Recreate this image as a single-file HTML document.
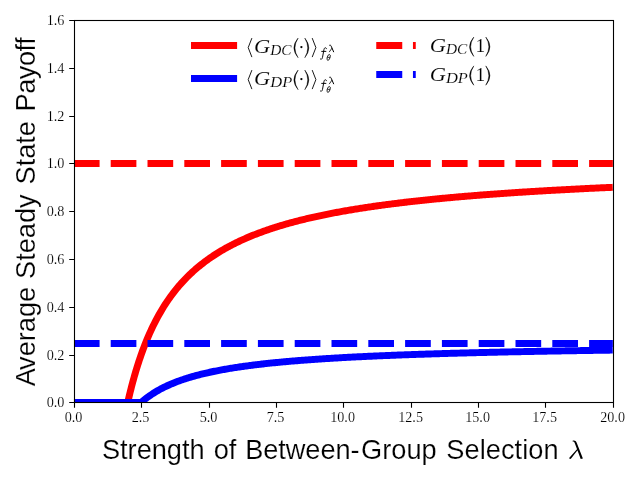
<!DOCTYPE html>
<html><head><meta charset="utf-8"><title>chart</title>
<style>text.th{stroke:#fff;stroke-width:0.1px}text.tk{stroke:#fff;stroke-width:0.15px}text.ax{stroke:#fff;stroke-width:0.18px}html,body{margin:0;padding:0;background:#fff;width:640px;height:480px;overflow:hidden}</style>
</head><body>
<svg width="640" height="480" viewBox="0 0 640 480" style="position:absolute;left:0;top:0;will-change:transform">
<defs><clipPath id="ax"><rect x="73.85" y="20" width="539" height="382.4"/></clipPath></defs>
<rect width="640" height="480" fill="#fff"/>
<g clip-path="url(#ax)" fill="none" stroke-width="6.944" stroke-linejoin="round">
<path d="M73.85,402.40 L100.80,402.40 L127.75,402.40 L128.21,400.36 L128.68,398.35 L129.14,396.37 L129.61,394.43 L130.07,392.52 L130.54,390.65 L131.00,388.80 L131.47,386.98 L131.93,385.19 L132.40,383.43 L132.86,381.70 L133.33,379.99 L133.79,378.31 L134.26,376.66 L134.72,375.03 L135.18,373.43 L135.65,371.85 L136.11,370.30 L136.58,368.76 L137.04,367.25 L137.51,365.76 L137.97,364.30 L138.44,362.85 L138.90,361.43 L139.37,360.02 L139.83,358.64 L140.30,357.27 L140.76,355.93 L141.22,354.60 L142.41,351.30 L143.59,348.12 L144.77,345.04 L145.95,342.06 L147.14,339.18 L148.32,336.39 L149.50,333.69 L150.68,331.07 L151.86,328.53 L153.05,326.06 L154.23,323.67 L155.41,321.35 L156.59,319.09 L157.77,316.90 L158.96,314.77 L160.14,312.69 L161.32,310.68 L162.50,308.71 L163.68,306.80 L164.87,304.94 L166.05,303.12 L167.23,301.35 L168.41,299.63 L169.59,297.95 L170.78,296.31 L171.96,294.71 L173.14,293.14 L174.32,291.62 L175.50,290.13 L176.69,288.67 L177.87,287.25 L179.05,285.85 L180.23,284.49 L181.41,283.16 L182.60,281.86 L183.78,280.59 L184.96,279.34 L186.14,278.12 L187.32,276.93 L188.51,275.75 L189.69,274.61 L190.87,273.48 L192.05,272.38 L193.23,271.30 L194.42,270.25 L195.60,269.21 L196.78,268.19 L197.96,267.19 L199.14,266.22 L200.33,265.25 L201.51,264.31 L202.69,263.39 L203.87,262.48 L205.05,261.58 L206.24,260.71 L207.42,259.85 L208.60,259.00 L209.78,258.17 L210.96,257.35 L212.15,256.55 L213.33,255.76 L214.51,254.98 L215.69,254.22 L216.87,253.47 L218.06,252.73 L219.24,252.00 L220.42,251.29 L221.60,250.59 L222.78,249.90 L223.97,249.21 L225.15,248.54 L226.33,247.88 L227.51,247.23 L228.69,246.59 L229.88,245.96 L231.06,245.34 L232.24,244.73 L233.42,244.13 L234.60,243.54 L235.79,242.95 L236.97,242.37 L238.15,241.81 L239.33,241.25 L240.51,240.69 L241.70,240.15 L242.88,239.61 L244.06,239.08 L245.24,238.56 L246.42,238.05 L247.61,237.54 L248.79,237.04 L249.97,236.54 L251.15,236.06 L252.33,235.57 L253.52,235.10 L254.70,234.63 L255.88,234.17 L257.06,233.71 L258.24,233.26 L259.43,232.82 L260.61,232.38 L261.79,231.94 L262.97,231.51 L264.15,231.09 L265.34,230.67 L266.52,230.26 L267.70,229.85 L268.88,229.45 L270.06,229.05 L271.25,228.66 L272.43,228.27 L273.61,227.89 L274.79,227.51 L275.98,227.13 L277.16,226.76 L278.34,226.40 L279.52,226.03 L280.70,225.68 L281.89,225.32 L283.07,224.97 L284.25,224.63 L285.43,224.28 L286.61,223.95 L287.80,223.61 L288.98,223.28 L290.16,222.95 L291.34,222.63 L292.52,222.31 L293.71,221.99 L294.89,221.68 L296.07,221.37 L297.25,221.06 L298.43,220.76 L299.62,220.46 L300.80,220.16 L301.98,219.87 L303.16,219.58 L304.34,219.29 L305.53,219.00 L306.71,218.72 L307.89,218.44 L309.07,218.17 L310.25,217.89 L311.44,217.62 L312.62,217.35 L313.80,217.09 L314.98,216.82 L316.16,216.56 L317.35,216.30 L318.53,216.05 L319.71,215.80 L320.89,215.55 L322.07,215.30 L323.26,215.05 L324.44,214.81 L325.62,214.57 L326.80,214.33 L327.98,214.09 L329.17,213.86 L330.35,213.62 L331.53,213.39 L332.71,213.16 L333.89,212.94 L335.08,212.71 L336.26,212.49 L337.44,212.27 L338.62,212.05 L339.80,211.84 L340.99,211.62 L342.17,211.41 L343.35,211.20 L344.53,210.99 L345.71,210.78 L346.90,210.58 L348.08,210.38 L349.26,210.17 L350.44,209.97 L351.62,209.78 L352.81,209.58 L353.99,209.38 L355.17,209.19 L356.35,209.00 L357.53,208.81 L358.72,208.62 L359.90,208.43 L361.08,208.25 L362.26,208.07 L363.44,207.88 L364.63,207.70 L365.81,207.52 L366.99,207.35 L368.17,207.17 L369.35,206.99 L370.54,206.82 L371.72,206.65 L372.90,206.48 L374.08,206.31 L375.26,206.14 L376.45,205.97 L377.63,205.81 L378.81,205.64 L379.99,205.48 L381.17,205.32 L382.36,205.16 L383.54,205.00 L384.72,204.84 L385.90,204.68 L387.08,204.53 L388.27,204.37 L389.45,204.22 L390.63,204.07 L391.81,203.91 L392.99,203.76 L394.18,203.62 L395.36,203.47 L396.54,203.32 L397.72,203.18 L398.90,203.03 L400.09,202.89 L401.27,202.74 L402.45,202.60 L403.63,202.46 L404.81,202.32 L406.00,202.18 L407.18,202.05 L408.36,201.91 L409.54,201.77 L410.73,201.64 L411.91,201.51 L413.09,201.37 L414.27,201.24 L415.45,201.11 L416.64,200.98 L417.82,200.85 L419.00,200.72 L420.18,200.60 L421.36,200.47 L422.55,200.34 L423.73,200.22 L424.91,200.09 L426.09,199.97 L427.27,199.85 L428.46,199.73 L429.64,199.61 L430.82,199.49 L432.00,199.37 L433.18,199.25 L434.37,199.13 L435.55,199.02 L436.73,198.90 L437.91,198.78 L439.09,198.67 L440.28,198.56 L441.46,198.44 L442.64,198.33 L443.82,198.22 L445.00,198.11 L446.19,198.00 L447.37,197.89 L448.55,197.78 L449.73,197.67 L450.91,197.56 L452.10,197.46 L453.28,197.35 L454.46,197.25 L455.64,197.14 L456.82,197.04 L458.01,196.93 L459.19,196.83 L460.37,196.73 L461.55,196.63 L462.73,196.53 L463.92,196.43 L465.10,196.33 L466.28,196.23 L467.46,196.13 L468.64,196.03 L469.83,195.93 L471.01,195.84 L472.19,195.74 L473.37,195.64 L474.55,195.55 L475.74,195.45 L476.92,195.36 L478.10,195.27 L479.28,195.17 L480.46,195.08 L481.65,194.99 L482.83,194.90 L484.01,194.81 L485.19,194.72 L486.37,194.63 L487.56,194.54 L488.74,194.45 L489.92,194.36 L491.10,194.27 L492.28,194.19 L493.47,194.10 L494.65,194.01 L495.83,193.93 L497.01,193.84 L498.19,193.76 L499.38,193.67 L500.56,193.59 L501.74,193.51 L502.92,193.42 L504.10,193.34 L505.29,193.26 L506.47,193.18 L507.65,193.10 L508.83,193.02 L510.01,192.93 L511.20,192.86 L512.38,192.78 L513.56,192.70 L514.74,192.62 L515.92,192.54 L517.11,192.46 L518.29,192.39 L519.47,192.31 L520.65,192.23 L521.83,192.16 L523.02,192.08 L524.20,192.00 L525.38,191.93 L526.56,191.86 L527.74,191.78 L528.93,191.71 L530.11,191.63 L531.29,191.56 L532.47,191.49 L533.65,191.42 L534.84,191.34 L536.02,191.27 L537.20,191.20 L538.38,191.13 L539.56,191.06 L540.75,190.99 L541.93,190.92 L543.11,190.85 L544.29,190.78 L545.48,190.71 L546.66,190.65 L547.84,190.58 L549.02,190.51 L550.20,190.44 L551.39,190.38 L552.57,190.31 L553.75,190.24 L554.93,190.18 L556.11,190.11 L557.30,190.05 L558.48,189.98 L559.66,189.92 L560.84,189.85 L562.02,189.79 L563.21,189.72 L564.39,189.66 L565.57,189.60 L566.75,189.54 L567.93,189.47 L569.12,189.41 L570.30,189.35 L571.48,189.29 L572.66,189.23 L573.84,189.16 L575.03,189.10 L576.21,189.04 L577.39,188.98 L578.57,188.92 L579.75,188.86 L580.94,188.80 L582.12,188.75 L583.30,188.69 L584.48,188.63 L585.66,188.57 L586.85,188.51 L588.03,188.45 L589.21,188.40 L590.39,188.34 L591.57,188.28 L592.76,188.23 L593.94,188.17 L595.12,188.11 L596.30,188.06 L597.48,188.00 L598.67,187.95 L599.85,187.89 L601.03,187.84 L602.21,187.78 L603.39,187.73 L604.58,187.67 L605.76,187.62 L606.94,187.56 L608.12,187.51 L609.30,187.46 L610.49,187.41 L611.67,187.35 L612.85,187.30" stroke="#f00"/>
<path d="M73.85,402.40 L100.80,402.40 L127.75,402.40 L128.21,402.40 L128.68,402.40 L129.14,402.40 L129.61,402.40 L130.07,402.40 L130.54,402.40 L131.00,402.40 L131.47,402.40 L131.93,402.40 L132.40,402.40 L132.86,402.40 L133.33,402.40 L133.79,402.40 L134.26,402.40 L134.72,402.40 L135.18,402.40 L135.65,402.40 L136.11,402.40 L136.58,402.40 L137.04,402.40 L137.51,402.40 L137.97,402.40 L138.44,402.40 L138.90,402.40 L139.37,402.40 L139.83,402.40 L140.30,402.40 L140.76,402.40 L141.22,402.40 L142.41,401.37 L143.59,400.37 L144.77,399.41 L145.95,398.48 L147.14,397.58 L148.32,396.71 L149.50,395.86 L150.68,395.05 L151.86,394.25 L153.05,393.48 L154.23,392.73 L155.41,392.01 L156.59,391.30 L157.77,390.62 L158.96,389.95 L160.14,389.30 L161.32,388.67 L162.50,388.06 L163.68,387.46 L164.87,386.88 L166.05,386.31 L167.23,385.76 L168.41,385.22 L169.59,384.70 L170.78,384.18 L171.96,383.68 L173.14,383.19 L174.32,382.72 L175.50,382.25 L176.69,381.80 L177.87,381.35 L179.05,380.92 L180.23,380.49 L181.41,380.08 L182.60,379.67 L183.78,379.27 L184.96,378.88 L186.14,378.50 L187.32,378.13 L188.51,377.76 L189.69,377.40 L190.87,377.05 L192.05,376.71 L193.23,376.37 L194.42,376.04 L195.60,375.72 L196.78,375.40 L197.96,375.09 L199.14,374.78 L200.33,374.48 L201.51,374.18 L202.69,373.90 L203.87,373.61 L205.05,373.33 L206.24,373.06 L207.42,372.79 L208.60,372.52 L209.78,372.27 L210.96,372.01 L212.15,371.76 L213.33,371.51 L214.51,371.27 L215.69,371.03 L216.87,370.80 L218.06,370.57 L219.24,370.34 L220.42,370.12 L221.60,369.90 L222.78,369.68 L223.97,369.47 L225.15,369.26 L226.33,369.05 L227.51,368.85 L228.69,368.65 L229.88,368.45 L231.06,368.26 L232.24,368.07 L233.42,367.88 L234.60,367.69 L235.79,367.51 L236.97,367.33 L238.15,367.15 L239.33,366.98 L240.51,366.80 L241.70,366.63 L242.88,366.47 L244.06,366.30 L245.24,366.14 L246.42,365.98 L247.61,365.82 L248.79,365.66 L249.97,365.51 L251.15,365.35 L252.33,365.20 L253.52,365.06 L254.70,364.91 L255.88,364.77 L257.06,364.62 L258.24,364.48 L259.43,364.34 L260.61,364.21 L261.79,364.07 L262.97,363.94 L264.15,363.80 L265.34,363.67 L266.52,363.54 L267.70,363.42 L268.88,363.29 L270.06,363.17 L271.25,363.04 L272.43,362.92 L273.61,362.80 L274.79,362.68 L275.98,362.57 L277.16,362.45 L278.34,362.34 L279.52,362.22 L280.70,362.11 L281.89,362.00 L283.07,361.89 L284.25,361.78 L285.43,361.68 L286.61,361.57 L287.80,361.47 L288.98,361.36 L290.16,361.26 L291.34,361.16 L292.52,361.06 L293.71,360.96 L294.89,360.86 L296.07,360.77 L297.25,360.67 L298.43,360.57 L299.62,360.48 L300.80,360.39 L301.98,360.30 L303.16,360.21 L304.34,360.12 L305.53,360.03 L306.71,359.94 L307.89,359.85 L309.07,359.76 L310.25,359.68 L311.44,359.59 L312.62,359.51 L313.80,359.43 L314.98,359.34 L316.16,359.26 L317.35,359.18 L318.53,359.10 L319.71,359.02 L320.89,358.95 L322.07,358.87 L323.26,358.79 L324.44,358.71 L325.62,358.64 L326.80,358.56 L327.98,358.49 L329.17,358.42 L330.35,358.34 L331.53,358.27 L332.71,358.20 L333.89,358.13 L335.08,358.06 L336.26,357.99 L337.44,357.92 L338.62,357.85 L339.80,357.79 L340.99,357.72 L342.17,357.65 L343.35,357.59 L344.53,357.52 L345.71,357.46 L346.90,357.39 L348.08,357.33 L349.26,357.27 L350.44,357.20 L351.62,357.14 L352.81,357.08 L353.99,357.02 L355.17,356.96 L356.35,356.90 L357.53,356.84 L358.72,356.78 L359.90,356.72 L361.08,356.67 L362.26,356.61 L363.44,356.55 L364.63,356.49 L365.81,356.44 L366.99,356.38 L368.17,356.33 L369.35,356.27 L370.54,356.22 L371.72,356.16 L372.90,356.11 L374.08,356.06 L375.26,356.01 L376.45,355.95 L377.63,355.90 L378.81,355.85 L379.99,355.80 L381.17,355.75 L382.36,355.70 L383.54,355.65 L384.72,355.60 L385.90,355.55 L387.08,355.50 L388.27,355.45 L389.45,355.41 L390.63,355.36 L391.81,355.31 L392.99,355.26 L394.18,355.22 L395.36,355.17 L396.54,355.13 L397.72,355.08 L398.90,355.03 L400.09,354.99 L401.27,354.95 L402.45,354.90 L403.63,354.86 L404.81,354.81 L406.00,354.77 L407.18,354.73 L408.36,354.68 L409.54,354.64 L410.73,354.60 L411.91,354.56 L413.09,354.52 L414.27,354.48 L415.45,354.43 L416.64,354.39 L417.82,354.35 L419.00,354.31 L420.18,354.27 L421.36,354.23 L422.55,354.19 L423.73,354.16 L424.91,354.12 L426.09,354.08 L427.27,354.04 L428.46,354.00 L429.64,353.96 L430.82,353.93 L432.00,353.89 L433.18,353.85 L434.37,353.82 L435.55,353.78 L436.73,353.74 L437.91,353.71 L439.09,353.67 L440.28,353.64 L441.46,353.60 L442.64,353.57 L443.82,353.53 L445.00,353.50 L446.19,353.46 L447.37,353.43 L448.55,353.39 L449.73,353.36 L450.91,353.33 L452.10,353.29 L453.28,353.26 L454.46,353.23 L455.64,353.19 L456.82,353.16 L458.01,353.13 L459.19,353.10 L460.37,353.07 L461.55,353.03 L462.73,353.00 L463.92,352.97 L465.10,352.94 L466.28,352.91 L467.46,352.88 L468.64,352.85 L469.83,352.82 L471.01,352.79 L472.19,352.76 L473.37,352.73 L474.55,352.70 L475.74,352.67 L476.92,352.64 L478.10,352.61 L479.28,352.58 L480.46,352.55 L481.65,352.52 L482.83,352.49 L484.01,352.46 L485.19,352.44 L486.37,352.41 L487.56,352.38 L488.74,352.35 L489.92,352.33 L491.10,352.30 L492.28,352.27 L493.47,352.24 L494.65,352.22 L495.83,352.19 L497.01,352.16 L498.19,352.14 L499.38,352.11 L500.56,352.08 L501.74,352.06 L502.92,352.03 L504.10,352.01 L505.29,351.98 L506.47,351.96 L507.65,351.93 L508.83,351.90 L510.01,351.88 L511.20,351.85 L512.38,351.83 L513.56,351.81 L514.74,351.78 L515.92,351.76 L517.11,351.73 L518.29,351.71 L519.47,351.68 L520.65,351.66 L521.83,351.64 L523.02,351.61 L524.20,351.59 L525.38,351.57 L526.56,351.54 L527.74,351.52 L528.93,351.50 L530.11,351.47 L531.29,351.45 L532.47,351.43 L533.65,351.41 L534.84,351.38 L536.02,351.36 L537.20,351.34 L538.38,351.32 L539.56,351.29 L540.75,351.27 L541.93,351.25 L543.11,351.23 L544.29,351.21 L545.48,351.19 L546.66,351.16 L547.84,351.14 L549.02,351.12 L550.20,351.10 L551.39,351.08 L552.57,351.06 L553.75,351.04 L554.93,351.02 L556.11,351.00 L557.30,350.98 L558.48,350.96 L559.66,350.94 L560.84,350.92 L562.02,350.90 L563.21,350.88 L564.39,350.86 L565.57,350.84 L566.75,350.82 L567.93,350.80 L569.12,350.78 L570.30,350.76 L571.48,350.74 L572.66,350.72 L573.84,350.70 L575.03,350.68 L576.21,350.66 L577.39,350.64 L578.57,350.63 L579.75,350.61 L580.94,350.59 L582.12,350.57 L583.30,350.55 L584.48,350.53 L585.66,350.52 L586.85,350.50 L588.03,350.48 L589.21,350.46 L590.39,350.44 L591.57,350.43 L592.76,350.41 L593.94,350.39 L595.12,350.37 L596.30,350.36 L597.48,350.34 L598.67,350.32 L599.85,350.30 L601.03,350.29 L602.21,350.27 L603.39,350.25 L604.58,350.24 L605.76,350.22 L606.94,350.20 L608.12,350.18 L609.30,350.17 L610.49,350.15 L611.67,350.14 L612.85,350.12" stroke="#00f"/>
<path d="M73.9,163.5 H613.5" stroke="#f00" stroke-width="7" stroke-dasharray="25.69 11.11"/>
<path d="M73.9,343.5 H613.5" stroke="#00f" stroke-width="7" stroke-dasharray="25.69 11.11"/>
</g>
<rect x="74.5" y="20.5" width="539.0" height="382.0" fill="none" stroke="#000" stroke-width="1.1"/>
<path d="M74.50,402.5 v5.3 M141.50,402.5 v5.3 M209.50,402.5 v5.3 M276.50,402.5 v5.3 M343.50,402.5 v5.3 M411.50,402.5 v5.3 M478.50,402.5 v5.3 M545.50,402.5 v5.3 M613.50,402.5 v5.3 M74.5,402.50 h-5.3 M74.5,355.50 h-5.3 M74.5,307.50 h-5.3 M74.5,259.50 h-5.3 M74.5,211.50 h-5.3 M74.5,163.50 h-5.3 M74.5,116.50 h-5.3 M74.5,68.50 h-5.3 M74.5,20.50 h-5.3" stroke="#000" stroke-width="1.1" fill="none"/>
<g font-family="Liberation Serif, serif" font-size="14.6" fill="#000">
<text class="tk" x="73.60" y="422" text-anchor="middle" textLength="17.8" lengthAdjust="spacingAndGlyphs">0.0</text>
<text class="tk" x="140.60" y="422" text-anchor="middle" textLength="17.8" lengthAdjust="spacingAndGlyphs">2.5</text>
<text class="tk" x="208.60" y="422" text-anchor="middle" textLength="17.8" lengthAdjust="spacingAndGlyphs">5.0</text>
<text class="tk" x="275.60" y="422" text-anchor="middle" textLength="17.8" lengthAdjust="spacingAndGlyphs">7.5</text>
<text class="tk" x="342.60" y="422" text-anchor="middle" textLength="24.7" lengthAdjust="spacingAndGlyphs">10.0</text>
<text class="tk" x="410.60" y="422" text-anchor="middle" textLength="24.7" lengthAdjust="spacingAndGlyphs">12.5</text>
<text class="tk" x="477.60" y="422" text-anchor="middle" textLength="24.7" lengthAdjust="spacingAndGlyphs">15.0</text>
<text class="tk" x="544.60" y="422" text-anchor="middle" textLength="24.7" lengthAdjust="spacingAndGlyphs">17.5</text>
<text class="tk" x="612.60" y="422" text-anchor="middle" textLength="24.7" lengthAdjust="spacingAndGlyphs">20.0</text>
<text class="tk" x="64.5" y="407.10" text-anchor="end" textLength="17.8" lengthAdjust="spacingAndGlyphs">0.0</text>
<text class="tk" x="64.5" y="360.10" text-anchor="end" textLength="17.8" lengthAdjust="spacingAndGlyphs">0.2</text>
<text class="tk" x="64.5" y="312.10" text-anchor="end" textLength="17.8" lengthAdjust="spacingAndGlyphs">0.4</text>
<text class="tk" x="64.5" y="264.10" text-anchor="end" textLength="17.8" lengthAdjust="spacingAndGlyphs">0.6</text>
<text class="tk" x="64.5" y="216.10" text-anchor="end" textLength="17.8" lengthAdjust="spacingAndGlyphs">0.8</text>
<text class="tk" x="64.5" y="168.10" text-anchor="end" textLength="17.8" lengthAdjust="spacingAndGlyphs">1.0</text>
<text class="tk" x="64.5" y="121.10" text-anchor="end" textLength="17.8" lengthAdjust="spacingAndGlyphs">1.2</text>
<text class="tk" x="64.5" y="73.10" text-anchor="end" textLength="17.8" lengthAdjust="spacingAndGlyphs">1.4</text>
<text class="tk" x="64.5" y="25.10" text-anchor="end" textLength="17.8" lengthAdjust="spacingAndGlyphs">1.6</text>
</g>
<g font-family="Liberation Sans, sans-serif" font-size="27.2" fill="#000">
<text class="ax" x="101.9" y="458.8">Strength</text>
<text class="ax" x="213.7" y="458.8">of</text>
<text class="ax" x="245.3" y="458.8" textLength="114.2" lengthAdjust="spacing">Between-</text>
<text class="ax" x="361.1" y="458.8">Group</text>
<text class="ax" x="446.3" y="458.8" textLength="112.3" lengthAdjust="spacing">Selection</text>
<text class="ax" transform="translate(35.1,386.3) rotate(-90)">A<tspan dx="-1.3">verage</tspan></text>
<text class="ax" transform="translate(35.1,279.0) rotate(-90)">Steady</text>
<text class="ax" transform="translate(35.1,184.5) rotate(-90)">State</text>
<text class="ax" transform="translate(35.1,111.5) rotate(-90)" textLength="74.3" lengthAdjust="spacing">Payoff</text>
</g>
<path d="M572.60,440.70 C574.40,440.00 575.90,440.60 576.70,442.70 L582.90,458.50 L580.70,459.10 L574.90,443.40 C574.40,442.00 573.70,441.40 572.60,441.50 Z M578.10,449.60 L570.70,459.10 L568.90,458.30 L577.20,449.00 Z" fill="#000"/>
<g fill="none" stroke-width="7">
<path d="M191.0,45.5 H237.1" stroke="#f00"/>
<path d="M191.0,78.5 H237.1" stroke="#00f"/>
<path d="M376.25,45.5 H415.75" stroke="#f00" stroke-dasharray="26 10.7"/>
<path d="M376.25,74.5 H415.75" stroke="#00f" stroke-dasharray="26 10.7"/>
</g>
<g font-family="Liberation Serif, serif" fill="#000">
<path d="M251.9,38.10 L248.2,47.60 L251.9,57.10" fill="none" stroke="#000" stroke-width="0.9"/>
<path d="M312.2,38.10 L315.9,47.60 L312.2,57.10" fill="none" stroke="#000" stroke-width="0.9"/>
<text class="th" x="254.0" y="52.7" font-size="19.4" font-style="italic" textLength="16.2" lengthAdjust="spacingAndGlyphs">G</text>
<text class="th" x="270.3" y="55.00" font-size="13.6" font-style="italic" textLength="21.3" lengthAdjust="spacingAndGlyphs">DC</text>
<path d="M298.10,38.10 Q289.70,47.90 298.10,57.70 Q291.80,47.90 298.10,38.10 Z" fill="#000" stroke="#000" stroke-width="0.45" stroke-linejoin="round"/>
<circle cx="301.4" cy="47.10" r="1.15" fill="#000"/>
<path d="M304.80,38.10 Q312.80,47.90 304.80,57.70 Q310.70,47.90 304.80,38.10 Z" fill="#000" stroke="#000" stroke-width="0.45" stroke-linejoin="round"/>
<path d="M326.5,48.70 C326.3,47.40 324.5,47.10 324.0,49.40 L322.5,57.30 C322.2,59.30 321.0,59.90 320.3,58.90 M321.7,51.40 H325.9" fill="none" stroke="#000" stroke-width="0.95" stroke-linecap="round"/>
<g transform="translate(328.65,57.40) skewX(-14)" fill="none" stroke="#000" stroke-width="0.8"><ellipse cx="0" cy="0" rx="1.45" ry="2.95"/><path d="M-1.4,0 H1.4" stroke-width="0.7"/></g>
<path d="M329.7,45.20 C330.5,45.00 330.9,45.40 331.2,46.20 L333.6,51.80" fill="none" stroke="#000" stroke-width="1.0" stroke-linecap="round"/>
<path d="M331.9,48.30 L329.4,51.80" fill="none" stroke="#000" stroke-width="0.8" stroke-linecap="round"/>
</g>
<g font-family="Liberation Serif, serif" fill="#000">
<path d="M251.9,70.10 L248.2,79.60 L251.9,89.10" fill="none" stroke="#000" stroke-width="0.9"/>
<path d="M312.2,70.10 L315.9,79.60 L312.2,89.10" fill="none" stroke="#000" stroke-width="0.9"/>
<text class="th" x="254.0" y="84.7" font-size="19.4" font-style="italic" textLength="16.2" lengthAdjust="spacingAndGlyphs">G</text>
<text class="th" x="270.3" y="87.00" font-size="13.6" font-style="italic" textLength="21.9" lengthAdjust="spacingAndGlyphs">DP</text>
<path d="M298.10,70.10 Q289.70,79.90 298.10,89.70 Q291.80,79.90 298.10,70.10 Z" fill="#000" stroke="#000" stroke-width="0.45" stroke-linejoin="round"/>
<circle cx="301.4" cy="79.10" r="1.15" fill="#000"/>
<path d="M304.80,70.10 Q312.80,79.90 304.80,89.70 Q310.70,79.90 304.80,70.10 Z" fill="#000" stroke="#000" stroke-width="0.45" stroke-linejoin="round"/>
<path d="M326.5,80.70 C326.3,79.40 324.5,79.10 324.0,81.40 L322.5,89.30 C322.2,91.30 321.0,91.90 320.3,90.90 M321.7,83.40 H325.9" fill="none" stroke="#000" stroke-width="0.95" stroke-linecap="round"/>
<g transform="translate(328.65,89.40) skewX(-14)" fill="none" stroke="#000" stroke-width="0.8"><ellipse cx="0" cy="0" rx="1.45" ry="2.95"/><path d="M-1.4,0 H1.4" stroke-width="0.7"/></g>
<path d="M329.7,77.20 C330.5,77.00 330.9,77.40 331.2,78.20 L333.6,83.80" fill="none" stroke="#000" stroke-width="1.0" stroke-linecap="round"/>
<path d="M331.9,80.30 L329.4,83.80" fill="none" stroke="#000" stroke-width="0.8" stroke-linecap="round"/>
</g>
<g font-family="Liberation Serif, serif" fill="#000">
<text class="th" x="429.7" y="52.0" font-size="19.4" font-style="italic" textLength="16.2" lengthAdjust="spacingAndGlyphs">G</text>
<text class="th" x="446.0" y="54.30" font-size="13.6" font-style="italic" textLength="21.3" lengthAdjust="spacingAndGlyphs">DC</text>
<path d="M473.80,37.10 Q465.40,46.75 473.80,56.40 Q467.50,46.75 473.80,37.10 Z" fill="#000" stroke="#000" stroke-width="0.45" stroke-linejoin="round"/>
<text class="th" x="475.4" y="52.0" font-size="19.4">1</text>
<path d="M485.80,37.10 Q494.00,46.75 485.80,56.40 Q491.90,46.75 485.80,37.10 Z" fill="#000" stroke="#000" stroke-width="0.45" stroke-linejoin="round"/>
</g>
<g font-family="Liberation Serif, serif" fill="#000">
<text class="th" x="429.7" y="80.8" font-size="19.4" font-style="italic" textLength="16.2" lengthAdjust="spacingAndGlyphs">G</text>
<text class="th" x="446.0" y="83.10" font-size="13.6" font-style="italic" textLength="21.9" lengthAdjust="spacingAndGlyphs">DP</text>
<path d="M473.80,65.90 Q465.40,75.55 473.80,85.20 Q467.50,75.55 473.80,65.90 Z" fill="#000" stroke="#000" stroke-width="0.45" stroke-linejoin="round"/>
<text class="th" x="475.4" y="80.8" font-size="19.4">1</text>
<path d="M485.80,65.90 Q494.00,75.55 485.80,85.20 Q491.90,75.55 485.80,65.90 Z" fill="#000" stroke="#000" stroke-width="0.45" stroke-linejoin="round"/>
</g>
</svg>
</body></html>
